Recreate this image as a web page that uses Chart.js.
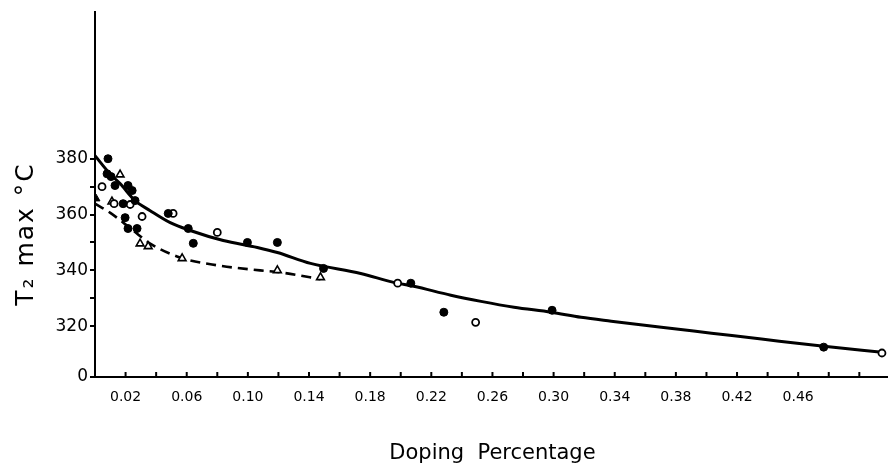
<!DOCTYPE html>
<html>
<head>
<meta charset="utf-8">
<script src="https://cdn.jsdelivr.net/npm/chart.js@4.4.1/dist/chart.umd.min.js"></script>
<style>
  html, body { margin: 0; padding: 0; background: #ffffff; overflow: hidden; }
  #wrap { width: 888px; height: 466px; position: relative; overflow: hidden; }
  #c { display: block; }
</style>
</head>
<body>
<div id="wrap"><canvas id="c" width="896" height="466"></canvas></div>
<script>
// ---- Data ----
// Solid fitted curve
const fitX = [0, 0.0098, 0.0164, 0.0262, 0.0361, 0.0492, 0.0623, 0.0839, 0.1062, 0.1193, 0.141, 0.1738, 0.1954, 0.2085, 0.2328, 0.2525, 0.2741, 0.2984, 0.318, 0.3377, 0.3705, 0.4033, 0.436, 0.4754, 0.5148];
const fitY = [381.1, 374.6, 371.1, 365.0, 361.4, 357.1, 354.3, 350.7, 348.2, 346.4, 342.5, 338.9, 335.7, 334.3, 331.1, 328.9, 326.8, 325.0, 323.2, 321.8, 319.6, 317.5, 315.4, 312.9, 310.7];
// Dashed fitted curve
const dashX = [0, 0.0098, 0.0249, 0.0361, 0.0557, 0.08, 0.108, 0.121, 0.141, 0.1475];
const dashY = [363.9, 360.7, 354.3, 349.6, 344.6, 341.8, 340.0, 339.3, 337.5, 336.8];
// Filled circles
const filledX = [0.0085, 0.0079, 0.0105, 0.0131, 0.0216, 0.0243, 0.0184, 0.0262, 0.0197, 0.0216, 0.0275, 0.0479, 0.061, 0.0643, 0.0997, 0.1193, 0.1495, 0.2066, 0.2282, 0.299, 0.4767];
const filledY = [380.0, 374.6, 373.6, 370.4, 370.4, 368.6, 363.9, 365.0, 358.9, 355.0, 355.0, 360.4, 355.0, 349.7, 350.0, 350.0, 340.7, 335.4, 325.0, 325.7, 312.5];
// Open circles
const openX = [0.0046, 0.0125, 0.023, 0.0308, 0.0511, 0.08, 0.198, 0.249, 0.5148];
const openY = [370.0, 363.9, 363.6, 359.3, 360.4, 353.6, 335.4, 321.4, 310.4];
// Open triangles
const triOpenX = [0.0164, 0.0111, 0.0295, 0.0348, 0.057, 0.1193, 0.1475];
const triOpenY = [374.3, 364.6, 349.6, 348.6, 344.3, 340.0, 337.5];
// Filled triangle
const triFilledX = [0.0007];
const triFilledY = [365.7];
// Axis labels
const xTickLabels = ['0.02', '0.06', '0.10', '0.14', '0.18', '0.22', '0.26', '0.30', '0.34', '0.38', '0.42', '0.46'];
const xTickLabelValues = [0.02, 0.06, 0.10, 0.14, 0.18, 0.22, 0.26, 0.30, 0.34, 0.38, 0.42, 0.46];
const yTickValues = [320, 330, 340, 350, 360, 370, 380];
const yTickLabels = ['320', '', '340', '', '360', '', '380'];
const yBreakValue = 301.8;   // where the broken axis shows "0"
const yBreakLabel = '0';
const xTitle = 'Doping  Percentage';
const yTitle = 'T\u2082 max \u00B0C';

const pts = (xs, ys) => xs.map((x, i) => ({ x: x, y: ys[i] }));

const FONT = "'DejaVu Sans', 'Open Sans', sans-serif";

const extras = {
  id: 'extras',
  afterDraw(chart) {
    const xs = chart.scales.x;
    const ctx = chart.ctx;
    const bottom = chart.chartArea.bottom;
    ctx.save();
    ctx.strokeStyle = '#000';
    ctx.lineWidth = 2;
    for (let v = 0.02; v <= 0.5001; v += 0.02) {
      const px = xs.getPixelForValue(v);
      ctx.beginPath();
      ctx.moveTo(px, bottom);
      ctx.lineTo(px, bottom - 5);
      ctx.stroke();
    }
    ctx.restore();
    // rotated y-axis title
    ctx.save();
    ctx.translate(26, 234);
    ctx.rotate(-Math.PI / 2);
    ctx.fillStyle = '#000';
    ctx.font = "25px " + FONT;
    if ('letterSpacing' in ctx) ctx.letterSpacing = '2px';
    ctx.textAlign = 'center';
    ctx.textBaseline = 'middle';
    ctx.fillText(yTitle, 0, 0);
    ctx.restore();
  }
};

new Chart(document.getElementById('c'), {
  type: 'scatter',
  data: {
    datasets: [
      { label: 'filled circles', data: pts(filledX, filledY), pointStyle: 'circle', pointRadius: 4, backgroundColor: '#000', borderColor: '#000', borderWidth: 1, order: 1 },
      { label: 'open circles', data: pts(openX, openY), pointStyle: 'circle', pointRadius: 3.5, backgroundColor: '#fff', borderColor: '#000', borderWidth: 1.8, order: 1 },
      { label: 'open triangles', data: pts(triOpenX, triOpenY), pointStyle: 'triangle', pointRadius: 4.5, backgroundColor: '#fff', borderColor: '#000', borderWidth: 1.6, order: 1 },
      { label: 'filled triangle', data: pts(triFilledX, triFilledY), pointStyle: 'triangle', pointRadius: 4.5, backgroundColor: '#000', borderColor: '#000', borderWidth: 1, order: 1 },
      { label: 'fit', data: pts(fitX, fitY), showLine: true, pointRadius: 0, borderColor: '#000', borderWidth: 3, cubicInterpolationMode: 'monotone', order: 2 },
      { label: 'fit dashed', data: pts(dashX, dashY), showLine: true, pointRadius: 0, borderColor: '#000', borderWidth: 2.6, borderDash: [10, 6], cubicInterpolationMode: 'monotone', order: 2 }
    ]
  },
  options: {
    responsive: false,
    animation: false,
    layout: { padding: { top: 11, right: 0, left: 0, bottom: 0 } },
    plugins: { legend: { display: false }, tooltip: { enabled: false } },
    scales: {
      x: {
        type: 'linear',
        min: 0,
        max: 0.52,
        afterFit(scale) { scale.height = 89; },
        afterBuildTicks(scale) {
          scale.ticks = xTickLabelValues.map(v => ({ value: v }));
        },
        ticks: {
          autoSkip: false,
          maxRotation: 0,
          color: '#000',
          font: { family: FONT, size: 14 },
          padding: 12,
          callback: (v) => {
            const i = xTickLabelValues.findIndex(t => Math.abs(t - v) < 1e-6);
            return i >= 0 ? xTickLabels[i] : '';
          }
        },
        grid: { display: true, drawOnChartArea: false, drawTicks: false, color: '#000' },
        border: { display: true, color: '#000', width: 2 },
        title: {
          display: true,
          text: xTitle,
          color: '#000',
          font: { family: FONT, size: 21 },
          padding: { top: 24, bottom: 0 }
        }
      },
      y: {
        type: 'linear',
        min: yBreakValue,
        max: 432.5,
        afterFit(scale) { scale.width = 95; },
        afterBuildTicks(scale) {
          scale.ticks = [{ value: yBreakValue }].concat(yTickValues.map(v => ({ value: v })));
        },
        ticks: {
          autoSkip: false,
          color: '#000',
          font: { family: FONT, size: 17 },
          padding: 2,
          callback: (v) => {
            if (Math.abs(v - yBreakValue) < 1e-6) return yBreakLabel;
            const i = yTickValues.indexOf(v);
            return i >= 0 ? yTickLabels[i] : '';
          }
        },
        grid: { display: true, drawOnChartArea: false, drawTicks: true, tickLength: 5, color: '#000', lineWidth: 2 },
        border: { display: true, color: '#000', width: 2 },
        title: { display: false }
      }
    }
  },
  plugins: [extras]
});
</script>
</body>
</html>
